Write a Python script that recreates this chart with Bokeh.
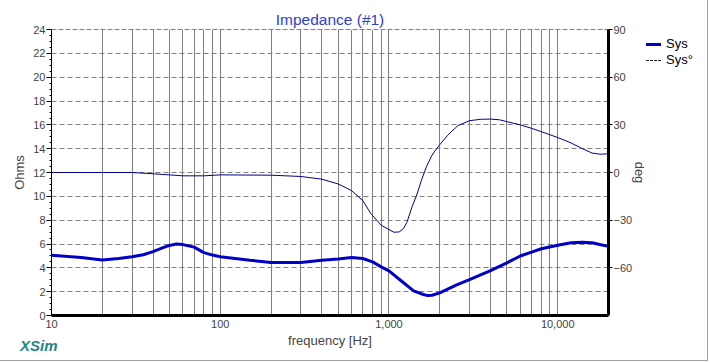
from bokeh.plotting import figure
from bokeh.models import (Range1d, LinearAxis, FixedTicker, NumeralTickFormatter,
                          Span, Div)
from bokeh.layouts import column
from bokeh.embed import file_html
from bokeh.resources import INLINE

# ---- data ----
mag_freq_hz = [10, 15, 20, 25, 30, 35, 40, 45, 50, 55, 60, 70, 80, 90, 100, 150, 200,
               300, 400, 500, 600, 700, 800, 900, 1000, 1200, 1400, 1600, 1700, 1800,
               2000, 2500, 3000, 4000, 5000, 6000, 7000, 8000, 10000, 12000, 14000,
               16000, 18000, 20000]
mag_ohm = [5.05, 4.87, 4.65, 4.78, 4.93, 5.1, 5.36, 5.65, 5.88, 6.0, 5.95, 5.74, 5.28,
           5.07, 4.93, 4.64, 4.45, 4.45, 4.64, 4.75, 4.87, 4.78, 4.5, 4.08, 3.75, 2.83,
           2.07, 1.76, 1.67, 1.7, 1.9, 2.55, 3.01, 3.77, 4.42, 4.99, 5.32, 5.6, 5.9,
           6.1, 6.15, 6.1, 5.93, 5.8]

ph_freq_hz = [10, 20, 30, 40, 50, 60, 80, 100, 200, 300, 400, 500, 600, 700, 780, 900,
              1000, 1070, 1150, 1220, 1280, 1370, 1460, 1560, 1670, 1790, 1900, 2000,
              2230, 2560, 3000, 3500, 4000, 4500, 5000, 6000, 7000, 8000, 10000, 12000,
              14000, 16000, 18000, 20000]
ph_deg = [0, 0, 0, -0.8, -1.5, -2.1, -2.1, -1.5, -1.7, -2.5, -4.2, -7.2, -11.4, -17.7,
          -25.8, -33.2, -35.9, -37.6, -37.4, -35.3, -31.1, -21.6, -14.2, -4.7, 3.8,
          10.5, 14.5, 17.5, 23.5, 29.5, 32.6, 33.5, 33.6, 33.2, 32, 30, 27.8, 25.7, 22,
          18.6, 15, 12.2, 11.5, 11.8]

x_major_ticks = [10, 100, 1000, 10000]
x_minor_ticks = [m * d for d in [10, 100, 1000, 10000] for m in range(2, 10) if m * d <= 20000]
ohm_ticks = list(range(0, 25, 2))
ohm_minor_ticks = [v / 2 for v in range(0, 49)]
deg_ticks = [-60, -30, 0, 30, 60, 90]
legend_labels = ["Sys", "Sys°"]

FONT = "Liberation Sans"
MAG_COLOR = "#0000c8"
PH_COLOR = "#000090"

p = figure(width=708, height=361, x_axis_type="log",
           x_range=Range1d(10, 20000), y_range=Range1d(0, 24),
           output_backend="svg", toolbar_location=None,
           min_border_left=51, min_border_right=100, min_border_top=29,
           min_border_bottom=46, title="Impedance (#1)")
p.outline_line_color = None
p.background_fill_color = "white"
p.border_fill_color = "white"
p.styles = {"border-right": "1px solid #a0a0a0", "border-bottom": "1px solid #a0a0a0"}

p.title.align = "center"
p.title.text_font = FONT
p.title.text_font_style = "normal"
p.title.text_font_size = "15.5px"
p.title.text_color = "#3040c8"
p.title.standoff = 4

p.extra_y_ranges = {"deg": Range1d(-90, 90)}

# x axis
xa = p.xaxis[0]
xa.ticker = FixedTicker(ticks=x_major_ticks, minor_ticks=x_minor_ticks)
xa.formatter = NumeralTickFormatter(format="0,0")
xa.axis_line_width = 3
xa.major_tick_out = 0
xa.major_tick_in = 0
xa.minor_tick_out = 0
xa.minor_tick_in = 0
xa.major_label_standoff = 4
xa.major_label_text_font = FONT
xa.major_label_text_font_size = "11px"
xa.axis_label = "frequency [Hz]"
xa.axis_label_text_font = FONT
xa.axis_label_text_font_style = "normal"
xa.axis_label_text_font_size = "13px"
xa.axis_label_standoff = 2

# left axis
ya = p.yaxis[0]
ya.ticker = FixedTicker(ticks=ohm_ticks, minor_ticks=ohm_minor_ticks)
ya.axis_line_width = 1
ya.major_tick_out = 5
ya.major_tick_in = 0
ya.minor_tick_out = 2
ya.minor_tick_in = 0
ya.major_label_standoff = 1
ya.major_label_text_font = FONT
ya.major_label_text_font_size = "11px"
ya.axis_label = "Ohms"
ya.axis_label_text_font = FONT
ya.axis_label_text_font_style = "normal"
ya.axis_label_text_font_size = "13px"
ya.axis_label_standoff = 3

# right axis
ra = LinearAxis(y_range_name="deg", ticker=FixedTicker(ticks=deg_ticks, minor_ticks=[]))
ra.axis_line_width = 3
ra.major_tick_out = 4
ra.major_tick_in = 0
ra.minor_tick_out = 0
ra.minor_tick_in = 0
ra.major_label_standoff = 1
ra.major_label_text_font = FONT
ra.major_label_text_font_size = "11px"
ra.axis_label = "deg"
ra.axis_label_text_font = FONT
ra.axis_label_text_font_style = "normal"
ra.axis_label_text_font_size = "13px"
ra.axis_label_standoff = -3
p.add_layout(ra, "right")

# grids
p.xgrid.grid_line_color = "black"
p.xgrid.grid_line_dash = "1 1"
p.xgrid.minor_grid_line_color = "black"
p.xgrid.minor_grid_line_dash = "1 1"
p.ygrid.grid_line_color = "#808080"
p.ygrid.grid_line_dash = "5 3"
p.add_layout(Span(location=24, dimension="width", line_color="black",
                  line_dash="5 2", line_width=1))

# curves
phase_r = p.line(ph_freq_hz, ph_deg, y_range_name="deg", line_color=PH_COLOR, line_width=1)
mag_r = p.line(mag_freq_hz, mag_ohm, line_color=MAG_COLOR, line_width=3)

# legend (outside the plot frame, so drawn as positioned HTML)
row_css = ("height:16px;line-height:16px;white-space:nowrap;font-family:'Liberation Sans';"
           "font-size:13px;color:black;")
legend_html = (
    f'<div style="{row_css}"><span style="display:inline-block;width:15px;height:0;'
    f'border-top:3px solid {MAG_COLOR};vertical-align:middle;margin-right:5px;"></span>'
    f'{legend_labels[0]}</div>'
    f'<div style="{row_css}"><span style="display:inline-block;width:15px;height:0;'
    f'border-top:1px dashed #202040;vertical-align:middle;margin-right:5px;"></span>'
    f'{legend_labels[1]}</div>'
)
legend_div = Div(text=legend_html, width=60, height=34,
                 styles={"position": "absolute", "left": "646px", "top": "36px",
                         "margin": "0", "padding": "0"})

logo = Div(text='<span style="font-family: \'Liberation Sans\'; font-size: 15px; '
                'font-weight: bold; font-style: italic; color: #1f8585;">XSim</span>',
           width=60, height=20,
           styles={"position": "absolute", "left": "20px", "top": "335px",
                   "margin": "0", "padding": "0"})

layout = column(p, legend_div, logo)
open("out.html", "w").write(file_html(layout, INLINE))
